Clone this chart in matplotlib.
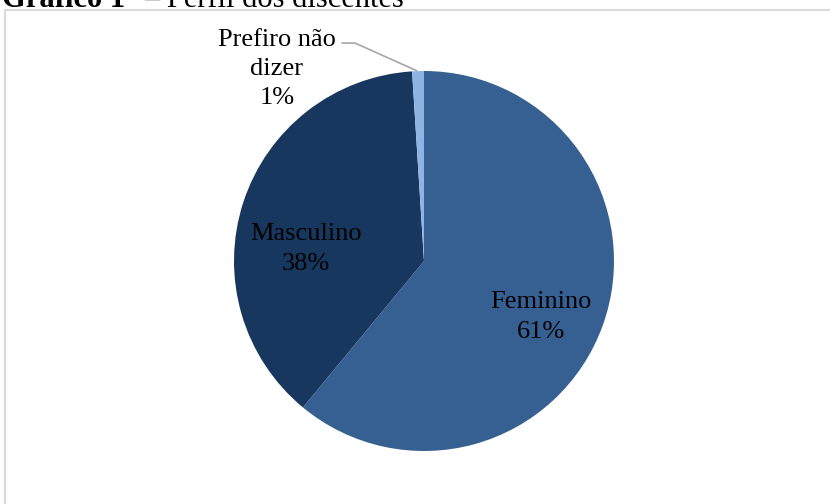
import matplotlib.pyplot as plt
from matplotlib.patches import Rectangle

# Perfil dos discentes por gênero
categorias = ['Feminino', 'Masculino', 'Prefiro não\ndizer']
percentuais = [61, 38, 1]
cores = ['#376092', '#17375E', '#8EB4E3']

plt.rcParams['font.family'] = ['Liberation Serif', 'DejaVu Serif']

W, H = 830, 504
fig = plt.figure(figsize=(W / 100, H / 100), dpi=100)
ax = fig.add_axes([0, 0, 1, 1])

# pie centre and radius in pixels, used to map the axes limits
cx, cy, r = 424, 261, 190

ax.pie(percentuais, colors=cores, startangle=90, counterclock=False,
       radius=1, center=(0, 0), frame=True,
       wedgeprops=dict(linewidth=0))
ax.set_xlim((0 - cx) / r, (W - cx) / r)
ax.set_ylim((cy - H) / r, cy / r)
ax.set_aspect('auto')
ax.axis('off')

# data labels
pos = [(0.616, -0.295), (-0.621, 0.063), (-0.774, 1.01)]
for nome, val, (x, y) in zip(categorias, percentuais, pos):
    ax.text(x, y, f'{nome}\n{val}%', ha='center', va='center',
            fontsize=19, color='black', linespacing=1.42)

# leader line for the small slice
ax.plot([-0.435, -0.363, -0.035], [1.147, 1.147, 1.0],
        color='#A6A6A6', linewidth=1.2, solid_capstyle='butt')

# chart area border
fig.patches.append(Rectangle((5 / W, -0.05), 1.1, 1 - 10 / H + 0.05,
                             transform=fig.transFigure, fill=False,
                             edgecolor='#D9D9D9', linewidth=1.5))

# caption, partly above the figure edge
fig.text(2 / W, 1 - 7 / H, 'Gráfico 1', fontsize=22, fontweight='bold',
         va='baseline')
fig.text(144 / W, 1 - 7 / H, '– Perfil dos discentes', fontsize=22,
         va='baseline')

fig.savefig('out.png', dpi=100)
